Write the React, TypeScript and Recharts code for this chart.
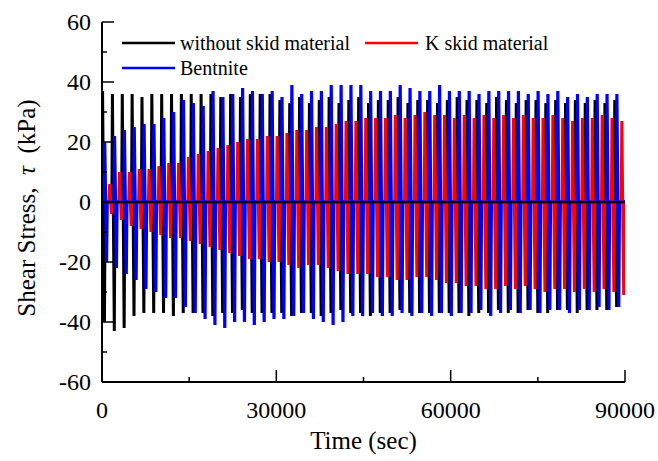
import React from 'react';
import { LineChart, Line, XAxis, YAxis, ReferenceLine, Legend } from 'recharts';

// ---- data ----
const CYCLE_SEC = 1695; // one loading cycle, seconds
const BLACK_FIRST_PEAK_SEC = 100;
const RED_FIRST_PEAK_SEC = 1312;
const BLUE_FIRST_PEAK_SEC = 465;
const END_SEC = 90000;

// shape of one loading pulse inside a cycle (fractions of a cycle)
const RISE_FRAC = 0.06;
const FALL_FRAC = 0.19;
const RETURN_FRAC = 0.07;

// per-cycle peak / trough shear stress (kPa)
const blackPeaks = [
  37, 36, 36, 36, 35, 36, 36, 36, 36, 36, 36, 36, 35, 36, 35, 36, 36, 36,
  34, 33, 35, 33, 34, 35, 33, 34, 35, 33, 34, 34, 35, 33, 34, 34, 33, 34, 35,
  34, 34, 33, 35, 34, 33, 34, 34, 33, 34, 33, 34, 33, 34, 33, 34,
];
const blackTroughs = [
  -40, -43, -42, -38, -37, -37, -37, -38, -37, -37, -37, -38, -37, -37, -36, -37, -37, -37,
  -37, -38, -37, -37, -38, -37, -36, -37, -37, -38, -37, -37, -36, -37, -37, -37, -37, -37, -37,
  -38, -37, -37, -36, -37, -37, -36, -37, -37, -36, -36, -37, -36, -36, -36, -35,
];
const redPeaks = [
  6, 10, 10, 11, 11, 12, 13, 13, 15, 16, 17, 18, 19, 20, 21, 21, 22, 22,
  23, 24, 24, 25, 25, 26, 27, 27, 28, 28, 28, 29, 28, 29, 30, 29, 29, 28,
  29, 28, 29, 28, 29, 28, 29, 28, 28, 29, 28, 27, 28, 28, 29, 28, 27,
];
const redTroughs = [
  -4, -6, -8, -9, -10, -11, -12, -12, -13, -14, -15, -16, -17, -18, -19, -19, -20, -20,
  -21, -22, -21, -21, -22, -23, -24, -24, -24, -25, -25, -26, -26, -25, -25, -26, -27, -27,
  -28, -28, -29, -29, -28, -29, -28, -29, -30, -29, -29, -30, -29, -30, -29, -30, -31,
];
const bluePeaks = [
  20, 22, 24, 25, 26, 26, 28, 30, 34, 33, 32, 37, 35, 36, 38, 37, 36, 37,
  35, 39, 36, 37, 37, 39, 39, 39, 39, 37, 37, 37, 39, 38, 37, 37, 39, 37,
  37, 37, 36, 37, 37, 37, 37, 36, 37, 36, 37, 35, 36, 35, 36, 36, 36,
];
const blueTroughs = [
  -20, -22, -24, -26, -29, -30, -32, -32, -35, -37,
  -39, -41, -42, -40, -40, -41, -40, -39, -39, -38,
  -37, -39, -40, -41, -40, -38, -38, -37, -38, -38,
  -37, -38, -37, -38, -37, -38, -37, -37, -36, -38,
  -37, -36, -37, -36, -37, -36, -36, -37, -36, -36,
  -35, -36, -35,
];

const xTicks = [0, 15000, 30000, 45000, 60000, 75000, 90000];
const xTickLabels = ['0', '', '30000', '', '60000', '', '90000'];
const yTicks = [-60, -50, -40, -30, -20, -10, 0, 10, 20, 30, 40, 50, 60];
const yTickLabels = ['-60', '', '-40', '', '-20', '', '0', '', '20', '', '40', '', '60'];

const seriesNames = ['without skid material', 'K skid material', 'Bentnite'];
const seriesColors = ['#000000', '#ff0000', '#0000ff'];

// ---- build polyline points: one pulse (0 -> peak -> trough -> 0) per cycle ----
function buildWave(firstPeak: number, peaks: number[], troughs: number[]) {
  const pts: { t: number; v: number }[] = [{ t: 0, v: 0 }];
  peaks.forEach((p, k) => {
    const tp = firstPeak + k * CYCLE_SEC;
    const t0 = Math.max(0, tp - RISE_FRAC * CYCLE_SEC);
    const tt = tp + FALL_FRAC * CYCLE_SEC;
    const tr = tt + RETURN_FRAC * CYCLE_SEC;
    if (tr > END_SEC) return;
    pts.push({ t: t0, v: 0 }, { t: tp, v: p }, { t: tt, v: troughs[k] }, { t: tr, v: 0 });
  });
  pts.push({ t: END_SEC, v: 0 });
  return pts;
}

const blackData = buildWave(BLACK_FIRST_PEAK_SEC, blackPeaks, blackTroughs);
const redData = buildWave(RED_FIRST_PEAK_SEC, redPeaks, redTroughs);
const blueData = buildWave(BLUE_FIRST_PEAK_SEC, bluePeaks, blueTroughs);

const FONT = "'Liberation Serif', 'Times New Roman', serif";

const BottomTick = (props: any) => {
  const { x, y, payload } = props;
  const i = xTicks.indexOf(payload.value);
  const label = xTickLabels[i] || '';
  const major = label !== '';
  return (
    <g>
      <line x1={x} y1={y} x2={x} y2={y - (major ? 12 : 5)} stroke="#000" strokeWidth={1.5} />
      {major && (
        <text x={x} y={y + 36} textAnchor="middle" fontSize={24} style={{ fontFamily: FONT }} fill="#000">
          {label}
        </text>
      )}
    </g>
  );
};

const TopTick = (props: any) => {
  const { x, y } = props;
  return <line x1={x} y1={y} x2={x} y2={y + 6} stroke="#000" strokeWidth={1.5} />;
};

const LeftTick = (props: any) => {
  const { x, y, payload } = props;
  const i = yTicks.indexOf(payload.value);
  const label = yTickLabels[i] || '';
  const major = label !== '';
  return (
    <g>
      <line x1={x} y1={y} x2={x + (major ? 12 : 5)} y2={y} stroke="#000" strokeWidth={1.5} />
      {major && (
        <text x={x - 11} y={y} dy="0.35em" textAnchor="end" fontSize={24} style={{ fontFamily: FONT }} fill="#000">
          {label}
        </text>
      )}
    </g>
  );
};

const RightTick = (props: any) => {
  const { x, y } = props;
  return <line x1={x} y1={y} x2={x - 5} y2={y} stroke="#000" strokeWidth={1.5} />;
};

const LegendBox = () => (
  <svg width={460} height={54} style={{ display: 'block', overflow: 'visible' }}>
    <line x1={4} y1={13} x2={57} y2={13} stroke={seriesColors[0]} strokeWidth={2.5} />
    <text x={62} y={20} fontSize={20} style={{ fontFamily: FONT }} fill="#000">{seriesNames[0]}</text>
    <line x1={247} y1={13} x2={300} y2={13} stroke={seriesColors[1]} strokeWidth={2.5} />
    <text x={307} y={20} fontSize={20} style={{ fontFamily: FONT }} fill="#000">{seriesNames[1]}</text>
    <line x1={4} y1={38} x2={57} y2={38} stroke={seriesColors[2]} strokeWidth={2.5} />
    <text x={62} y={45} fontSize={20} style={{ fontFamily: FONT }} fill="#000">{seriesNames[2]}</text>
  </svg>
);

const YLabel = () => (
  <text
    x={26}
    y={208}
    transform="rotate(-90 26 208)"
    textAnchor="middle"
    dominantBaseline="central"
    fontSize={25}
    fill="#000"
    style={{ whiteSpace: 'pre', fontFamily: FONT }}
  >
    {'Shear Stress,  '}
    <tspan fontStyle="italic">τ</tspan>
    {'  (kPa)'}
  </text>
);

export default function App() {
  return (
    <div
      style={{
        position: 'fixed',
        left: 0,
        top: 0,
        width: 658,
        height: 461,
        background: '#fff',
        fontFamily: FONT,
        overflow: 'hidden',
      }}
    >
      <LineChart
        width={658}
        height={461}
        margin={{ top: 22, right: 33, bottom: 0, left: 0 }}
        style={{ fontFamily: FONT }}
      >
        <XAxis
          dataKey="t"
          type="number"
          domain={[0, END_SEC]}
          allowDataOverflow
          ticks={xTicks}
          interval={0}
          height={79}
          tickSize={0}
          tickMargin={0}
          tickLine={false}
          tick={<BottomTick />}
          axisLine={{ stroke: '#000', strokeWidth: 2 }}
          label={{
            value: 'Time (sec)',
            position: 'insideBottom',
            offset: 12,
            style: { fontSize: 25, fontFamily: FONT, fill: '#000' },
          }}
        />
        <XAxis
          xAxisId="top"
          orientation="top"
          type="number"
          domain={[0, END_SEC]}
          allowDataOverflow
          ticks={xTicks}
          interval={0}
          height={0}
          tickSize={0}
          tickMargin={0}
          tickLine={false}
          tick={<TopTick />}
          axisLine={{ stroke: '#000', strokeWidth: 2 }}
        />
        <YAxis
          type="number"
          domain={[-60, 60]}
          allowDataOverflow
          ticks={yTicks}
          interval={0}
          width={102}
          tickSize={0}
          tickMargin={0}
          tickLine={false}
          tick={<LeftTick />}
          axisLine={{ stroke: '#000', strokeWidth: 2 }}
          label={{ content: () => <YLabel /> }}
        />
        <YAxis
          yAxisId="right"
          orientation="right"
          type="number"
          domain={[-60, 60]}
          allowDataOverflow
          ticks={yTicks}
          interval={0}
          width={0}
          tickSize={0}
          tickMargin={0}
          tickLine={false}
          tick={<RightTick />}
          axisLine={{ stroke: '#000', strokeWidth: 2 }}
        />
        <Legend
          layout="vertical"
          align="center"
          verticalAlign="middle"
          content={() => <LegendBox />}
          wrapperStyle={{ position: 'absolute', left: 118, top: 30, width: 460, height: 54 }}
        />
        <Line
          data={blackData}
          dataKey="v"
          name={seriesNames[0]}
          stroke={seriesColors[0]}
          strokeWidth={3}
          dot={false}
          activeDot={false}
          isAnimationActive={false}
        />
        <Line
          data={redData}
          dataKey="v"
          name={seriesNames[1]}
          stroke={seriesColors[1]}
          strokeWidth={3}
          dot={false}
          activeDot={false}
          isAnimationActive={false}
        />
        <Line
          data={blueData}
          dataKey="v"
          name={seriesNames[2]}
          stroke={seriesColors[2]}
          strokeWidth={3.2}
          dot={false}
          activeDot={false}
          isAnimationActive={false}
        />
        <ReferenceLine y={0} stroke="#000" strokeWidth={2} />
      </LineChart>
    </div>
  );
}
